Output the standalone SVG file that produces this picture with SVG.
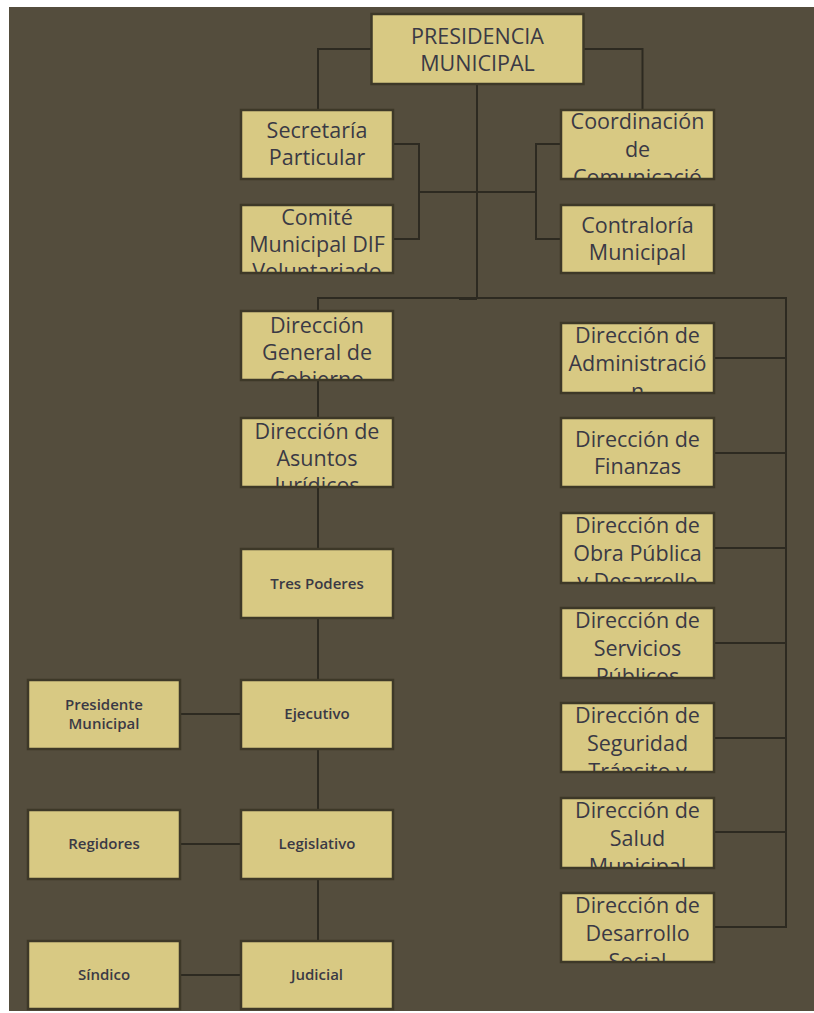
<svg xmlns="http://www.w3.org/2000/svg" width="814" height="1013" viewBox="0 0 814 1013">
<style>
.bg{fill:#544d3d}
.box{fill:#d8c983;stroke:#3d3828;stroke-width:2.5}
.t{font-family:'Open Sans','Noto Sans',sans-serif;font-size:21.5px;fill:#3a3945;text-anchor:middle}
.s{font-family:'Open Sans','Noto Sans',sans-serif;font-size:15px;font-weight:600;fill:#3a3945;text-anchor:middle}
.c{fill:none;stroke:#2d2a21;stroke-width:2}
</style>
<defs>
<clipPath id="cp-comite"><rect x="242" y="206" width="150" height="66"/></clipPath>
<clipPath id="cp-coord"><rect x="562" y="111" width="151" height="67"/></clipPath>
<clipPath id="cp-dirgen"><rect x="242" y="312" width="150" height="67"/></clipPath>
<clipPath id="cp-asuntos"><rect x="242" y="419" width="150" height="67"/></clipPath>
<clipPath id="cp-admin"><rect x="562" y="324" width="151" height="68"/></clipPath>
<clipPath id="cp-obra"><rect x="562" y="514" width="151" height="68"/></clipPath>
<clipPath id="cp-serv"><rect x="562" y="609" width="151" height="68"/></clipPath>
<clipPath id="cp-seg"><rect x="562" y="704" width="151" height="67"/></clipPath>
<clipPath id="cp-salud"><rect x="562" y="799" width="151" height="68"/></clipPath>
<clipPath id="cp-desa"><rect x="562" y="894" width="151" height="67"/></clipPath>
</defs>
<rect class="bg" x="9" y="7" width="805" height="1004"/>
<g id="connectors">
<path class="c" d="M371 49 H318 V110"/>
<path class="c" d="M584 49 H642.5 V110"/>
<path class="c" d="M477 85 V298"/>
<path class="c" d="M394 144 H419 V239 H394"/>
<path class="c" d="M419 192 H536"/>
<path class="c" d="M561 144 H536 V239 H561"/>
<path class="c" d="M318 311 V298 H786 V927 H715"/>
<path class="c" d="M459 299 H477"/>
<path class="c" d="M715 358 H786 M715 453 H786 M715 548 H786 M715 643 H786 M715 738 H786 M715 832 H786"/>
<path class="c" d="M318 381 V941"/>
<path class="c" d="M181 714 H241 M181 844 H241 M181 975 H241"/>
</g>
<g id="presidencia">
<rect class="box" x="371.5" y="14" width="212" height="70"/>
<text class="t" x="477.5" y="44">PRESIDENCIA</text>
<text class="t" x="477.5" y="71">MUNICIPAL</text>
</g>
<g id="secretaria">
<rect class="box" x="241" y="110" width="152" height="69"/>
<text class="t" x="317" y="138">Secretaría</text>
<text class="t" x="317" y="165">Particular</text>
</g>
<g id="comite">
<rect class="box" x="241" y="205" width="152" height="68"/>
<g clip-path="url(#cp-comite)">
<text class="t" x="317" y="225">Comité</text>
<text class="t" x="317" y="252">Municipal DIF</text>
<text class="t" x="317" y="279">Voluntariado</text>
</g>
</g>
<g id="coordinacion">
<rect class="box" x="561" y="110" width="153" height="69"/>
<g clip-path="url(#cp-coord)">
<text class="t" x="637.5" y="129">Coordinación</text>
<text class="t" x="637.5" y="157">de</text>
<text class="t" x="637.5" y="185">Comunicació</text>
</g>
</g>
<g id="contraloria">
<rect class="box" x="561" y="205" width="153" height="68"/>
<text class="t" x="637.5" y="233">Contraloría</text>
<text class="t" x="637.5" y="260">Municipal</text>
</g>
<g id="dir-general-gobierno">
<rect class="box" x="241" y="311" width="152" height="69"/>
<g clip-path="url(#cp-dirgen)">
<text class="t" x="317" y="333">Dirección</text>
<text class="t" x="317" y="360">General de</text>
<text class="t" x="317" y="387">Gobierno</text>
</g>
</g>
<g id="dir-asuntos-juridicos">
<rect class="box" x="241" y="418" width="152" height="69"/>
<g clip-path="url(#cp-asuntos)">
<text class="t" x="317" y="439">Dirección de</text>
<text class="t" x="317" y="466">Asuntos</text>
<text class="t" x="317" y="493">Jurídicos</text>
</g>
</g>
<g id="tres-poderes">
<rect class="box" x="241" y="549" width="152" height="69"/>
<text class="s" x="317" y="589">Tres Poderes</text>
</g>
<g id="ejecutivo">
<rect class="box" x="241" y="680" width="152" height="69"/>
<text class="s" x="317" y="719">Ejecutivo</text>
</g>
<g id="legislativo">
<rect class="box" x="241" y="810" width="152" height="69"/>
<text class="s" x="317" y="849">Legislativo</text>
</g>
<g id="judicial">
<rect class="box" x="241" y="941" width="152" height="68"/>
<text class="s" x="317" y="980">Judicial</text>
</g>
<g id="presidente-municipal">
<rect class="box" x="28" y="680" width="152" height="69"/>
<text class="s" x="104" y="710">Presidente</text>
<text class="s" x="104" y="729">Municipal</text>
</g>
<g id="regidores">
<rect class="box" x="28" y="810" width="152" height="69"/>
<text class="s" x="104" y="849">Regidores</text>
</g>
<g id="sindico">
<rect class="box" x="28" y="941" width="152" height="68"/>
<text class="s" x="104" y="980">Síndico</text>
</g>
<g id="dir-administracion">
<rect class="box" x="561" y="323" width="153" height="70"/>
<g clip-path="url(#cp-admin)">
<text class="t" x="637.5" y="343">Dirección de</text>
<text class="t" x="637.5" y="371">Administració</text>
<text class="t" x="637.5" y="399">n</text>
</g>
</g>
<g id="dir-finanzas">
<rect class="box" x="561" y="418" width="153" height="69"/>
<text class="t" x="637.5" y="447">Dirección de</text>
<text class="t" x="637.5" y="474">Finanzas</text>
</g>
<g id="dir-obra-publica">
<rect class="box" x="561" y="513" width="153" height="70"/>
<g clip-path="url(#cp-obra)">
<text class="t" x="637.5" y="533">Dirección de</text>
<text class="t" x="637.5" y="561">Obra Pública</text>
<text class="t" x="637.5" y="589">y Desarrollo</text>
</g>
</g>
<g id="dir-servicios-publicos">
<rect class="box" x="561" y="608" width="153" height="70"/>
<g clip-path="url(#cp-serv)">
<text class="t" x="637.5" y="628">Dirección de</text>
<text class="t" x="637.5" y="656">Servicios</text>
<text class="t" x="637.5" y="684">Públicos</text>
</g>
</g>
<g id="dir-seguridad">
<rect class="box" x="561" y="703" width="153" height="69"/>
<g clip-path="url(#cp-seg)">
<text class="t" x="637.5" y="723">Dirección de</text>
<text class="t" x="637.5" y="751">Seguridad</text>
<text class="t" x="637.5" y="779">Tránsito y</text>
</g>
</g>
<g id="dir-salud">
<rect class="box" x="561" y="798" width="153" height="70"/>
<g clip-path="url(#cp-salud)">
<text class="t" x="637.5" y="818">Dirección de</text>
<text class="t" x="637.5" y="846">Salud</text>
<text class="t" x="637.5" y="874">Municipal</text>
</g>
</g>
<g id="dir-desarrollo-social">
<rect class="box" x="561" y="893" width="153" height="69"/>
<g clip-path="url(#cp-desa)">
<text class="t" x="637.5" y="913">Dirección de</text>
<text class="t" x="637.5" y="941">Desarrollo</text>
<text class="t" x="637.5" y="969">Social</text>
</g>
</g>
</svg>
